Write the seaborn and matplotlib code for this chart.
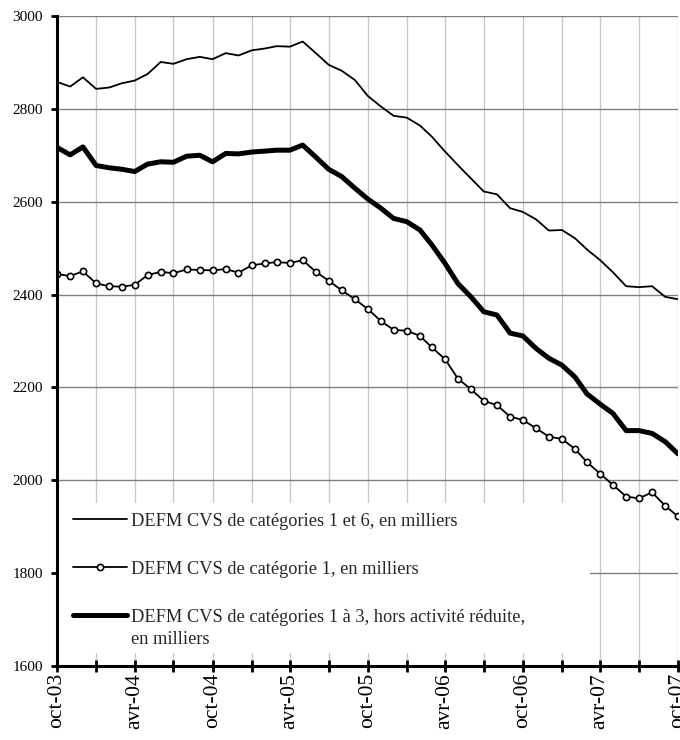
import pandas as pd
import seaborn as sns
import matplotlib.pyplot as plt
from matplotlib.lines import Line2D
from matplotlib.patches import Rectangle

# monthly series, oct-03 to oct-07
months = pd.date_range('2003-10-01', periods=49, freq='MS')

cat_1_6 = [2858, 2848, 2868, 2843, 2846, 2855, 2861, 2875, 2901, 2897,
           2907, 2912, 2907, 2920, 2915, 2926, 2930, 2935, 2934, 2945,
           2920, 2895, 2882, 2862, 2828, 2805, 2785, 2781, 2764, 2740,
           2708, 2679, 2650, 2622, 2616, 2586, 2578, 2562, 2538, 2539,
           2521, 2497, 2474, 2448, 2418, 2416, 2418, 2395, 2390]
cat_1 = [2444, 2440, 2450, 2424, 2418, 2417, 2421, 2442, 2449, 2446,
         2454, 2453, 2452, 2455, 2447, 2463, 2467, 2470, 2468, 2474,
         2449, 2430, 2409, 2390, 2369, 2343, 2324, 2322, 2311, 2286,
         2261, 2219, 2196, 2171, 2162, 2137, 2130, 2112, 2094, 2089,
         2067, 2039, 2014, 1990, 1965, 1961, 1974, 1945, 1922]
cat_1_3 = [2717, 2701, 2718, 2678, 2673, 2670, 2665, 2681, 2686, 2685,
           2698, 2700, 2686, 2704, 2703, 2707, 2709, 2711, 2711, 2722,
           2696, 2670, 2654, 2629, 2606, 2586, 2564, 2557, 2539, 2507,
           2467, 2424, 2395, 2363, 2356, 2317, 2311, 2284, 2263, 2248,
           2222, 2186, 2164, 2144, 2107, 2107, 2101, 2083, 2057]

labels = ['DEFM CVS de catégories 1 et 6, en milliers',
          'DEFM CVS de catégorie 1, en milliers',
          'DEFM CVS de catégories 1 à 3, hors activité réduite,']
label_extra = 'en milliers'

xtick_labels = ['oct-03', '', 'avr-04', '', 'oct-04', '', 'avr-05', '',
                'oct-05', '', 'avr-06', '', 'oct-06', '', 'avr-07', '', 'oct-07']
yticks = [1600, 1800, 2000, 2200, 2400, 2600, 2800, 3000]

df = pd.DataFrame({'mois': months, 'c16': cat_1_6, 'c1': cat_1, 'c13': cat_1_3})

sns.set_style('white')
plt.rcParams['font.family'] = ['Liberation Serif', 'DejaVu Serif']

fig, ax = plt.subplots(figsize=(6.8, 7.4), dpi=100)
fig.subplots_adjust(left=57/680, right=678/680, top=1-16/740, bottom=1-666/740)

sns.lineplot(data=df, x='mois', y='c16', ax=ax, color='black', lw=1.3, zorder=3)
sns.lineplot(data=df, x='mois', y='c1', ax=ax, color='black', lw=1.3,
             marker='o', markersize=4.5, markerfacecolor='white',
             markeredgecolor='black', markeredgewidth=1.2, zorder=3)
sns.lineplot(data=df, x='mois', y='c13', ax=ax, color='black', lw=3.6, zorder=3)

ax.set_xlim(months[0], months[-1])
ax.set_ylim(1600, 3000)
ax.set_yticks(yticks)
ax.set_yticklabels([str(v) for v in yticks], fontsize=11)
ax.set_xticks(months[::3])
ax.set_xticklabels(xtick_labels, rotation=90, fontsize=15.5)
ax.set_xlabel('')
ax.set_ylabel('')

# grid: dark horizontal, light vertical
ax.set_axisbelow(True)
ax.yaxis.grid(True, color='#808080', lw=1)
ax.xaxis.grid(True, color='#c8c8c8', lw=1)

for s in ['top', 'right']:
    ax.spines[s].set_visible(False)
for s in ['left', 'bottom']:
    ax.spines[s].set_color('black')
    ax.spines[s].set_linewidth(2.2)
    ax.spines[s].set_zorder(5)
ax.tick_params(axis='y', direction='out', length=4, width=2, pad=6, colors='black', left=True)
ax.tick_params(axis='x', direction='inout', length=8, width=2, pad=1, colors='black', bottom=True)

# white box behind the legend hides the grid
ax.add_patch(Rectangle((0, (666-653)/650), (590-57)/621, (653-503)/650, transform=ax.transAxes,
                       facecolor='white', edgecolor='none', zorder=1))

handles = [Line2D([], [], color='black', lw=1.3),
           Line2D([], [], color='black', lw=1.3, marker='o', markersize=4.5,
                  markerfacecolor='white', markeredgewidth=1.2),
           Line2D([], [], color='black', lw=3.6)]
leg = ax.legend(handles, labels, loc='upper left', bbox_to_anchor=(0.026, 0.236),
                frameon=False, fontsize=13.2, handlelength=2.95, handletextpad=0.2,
                borderpad=0, borderaxespad=0, labelspacing=1.69)
leg.set_zorder(4)
ax.text((131-57)/621, (666-640)/650, label_extra, transform=ax.transAxes,
        va='center', ha='left', fontsize=13.2, zorder=4)

fig.savefig('out.png', dpi=100)
